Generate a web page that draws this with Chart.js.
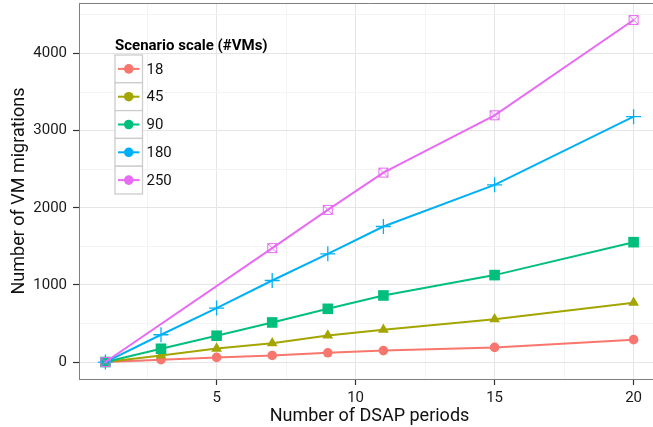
<!DOCTYPE html>
<html><head><meta charset="utf-8">
<script src="https://cdn.jsdelivr.net/npm/chart.js@4.4.1/dist/chart.umd.min.js"></script>
<style>html,body{margin:0;padding:0;overflow:hidden;background:#fff}#wrap{width:660px;height:427px}</style>
</head><body><div id="wrap"><canvas id="c" width="660" height="427"></canvas></div>
<script>
// ---- data ----
const periods = [1, 3, 5, 7, 9, 11, 15, 20];
const vms18  = [0, 30, 60, 85, 120, 148, 190, 290];
const vms45  = [0, 85, 175, 245, 345, 420, 555, 770];
const vms90  = [0, 172, 341, 513, 690, 863, 1127, 1554];
const vms180 = [0, 354, 699, 1057, 1403, 1757, 2297, 3181];
const vms250 = [0, null, null, 1477, 1973, 2456, 3199, 4434];
const seriesNames = ['18', '45', '90', '180', '250'];
const xTickValues = [2.5, 5, 7.5, 10, 12.5, 15, 17.5, 20];
const yTickValues = [0, 500, 1000, 1500, 2000, 2500, 3000, 3500, 4000, 4500];
const legendTitle = 'Scenario scale (#VMs)';

// ---- styles ----
const colors = ['#F8766D', '#A3A500', '#00BF7D', '#00B0F6', '#E76BF3'];
const FONT = 'Roboto';

function boxCross(color) {
  const c = document.createElement('canvas');
  c.width = 12; c.height = 12;
  const g = c.getContext('2d');
  g.strokeStyle = color; g.lineWidth = 1;
  g.strokeRect(1.5, 1.5, 9, 9);
  g.beginPath();
  g.moveTo(1.5, 1.5); g.lineTo(10.5, 10.5);
  g.moveTo(10.5, 1.5); g.lineTo(1.5, 10.5);
  g.stroke();
  return c;
}

const allSeries = [vms18, vms45, vms90, vms180, vms250];
const pointStyles = ['circle', 'triangle', 'rect', 'cross', boxCross(colors[4])];
const pointRadii = [4.8, 6.2, 7.5, 7.5, 6];

const datasets = allSeries.map((vals, i) => ({
  label: seriesNames[i],
  data: periods.map((p, j) => vals[j] === null ? null : ({x: p, y: vals[j]})).filter(d => d !== null),
  borderColor: colors[i],
  backgroundColor: colors[i],
  borderWidth: 2,
  pointStyle: pointStyles[i],
  pointRadius: pointRadii[i],
  pointHoverRadius: pointRadii[i],
  pointBorderWidth: i === 3 ? 1.3 : 0,
  pointBorderColor: colors[i],
  pointBackgroundColor: colors[i],
  tension: 0,
  clip: false,
  order: 5 - i
}));

const isMajorX = v => v % 5 === 0;
const isMajorY = v => v % 1000 === 0;

function zeroPad(s) { s.paddingTop = 0; s.paddingBottom = 0; s.paddingLeft = 0; s.paddingRight = 0; }

const framePlugin = {
  id: 'frame',
  afterDraw(chart) {
    const {ctx, chartArea: a} = chart;
    ctx.save();
    ctx.strokeStyle = '#7F7F7F';
    ctx.lineWidth = 1;
    ctx.beginPath();
    ctx.moveTo(a.left, a.top + 0.5);
    ctx.lineTo(a.right, a.top + 0.5);
    ctx.stroke();
    // legend
    const lx = 115, ly = 55, kw = 27.5, kh = 27.8;
    ctx.fillStyle = '#000';
    ctx.font = 'bold 15px ' + FONT;
    ctx.textBaseline = 'alphabetic';
    ctx.textAlign = 'left';
    ctx.fillText(legendTitle, lx, 50);
    seriesNames.forEach((name, i) => {
      const y0 = ly + i * kh;
      ctx.fillStyle = '#FFFFFF';
      ctx.fillRect(lx, y0, kw, kh);
      ctx.strokeStyle = '#CCCCCC';
      ctx.lineWidth = 1.3;
      ctx.strokeRect(lx, y0, kw, kh);
      const cy = y0 + kh / 2, cx = lx + kw / 2;
      ctx.strokeStyle = colors[i];
      ctx.lineWidth = 2;
      ctx.beginPath();
      ctx.moveTo(lx + 3, cy); ctx.lineTo(lx + kw - 3, cy);
      ctx.stroke();
      ctx.fillStyle = colors[i];
      ctx.beginPath();
      ctx.arc(cx, cy, 4.8, 0, Math.PI * 2);
      ctx.fill();
      ctx.fillStyle = '#111';
      ctx.font = '15px ' + FONT;
      ctx.textBaseline = 'middle';
      ctx.fillText(name, lx + kw + 4, cy + 1);
    });
    ctx.restore();
  }
};

new Chart(document.getElementById('c'), {
  type: 'line',
  data: {datasets},
  options: {
    responsive: false,
    animation: false,
    events: [],
    layout: {autoPadding: false, padding: {top: 3, right: 0, left: 0, bottom: 0}},
    plugins: {legend: {display: false}, tooltip: {enabled: false}},
    scales: {
      x: {
        type: 'linear',
        min: 0.05, max: 20.95,
        afterBuildTicks: s => { s.ticks = xTickValues.map(v => ({value: v})); },
        afterFit: s => { s.height = 48; zeroPad(s); },
        ticks: {
          autoSkip: false, maxRotation: 0, padding: 4,
          color: '#1A1A1A', font: {family: FONT, size: 15},
          callback: v => isMajorX(v) ? String(v) : ''
        },
        grid: {
          color: c => isMajorX(c.tick.value) ? '#E5E5E5' : '#F4F4F4',
          lineWidth: 1,
          tickLength: 6,
          tickColor: c => isMajorX(c.tick.value) ? '#333333' : 'rgba(0,0,0,0)',
          tickWidth: 1.2
        },
        border: {display: true, color: '#7F7F7F', width: 1},
        title: {display: true, text: 'Number of DSAP periods', color: '#111',
                font: {family: FONT, size: 18}, padding: {top: 0, bottom: 0}}
      },
      y: {
        type: 'linear',
        min: -220, max: 4655,
        afterBuildTicks: s => { s.ticks = yTickValues.map(v => ({value: v})); },
        afterFit: s => { s.width = 79; zeroPad(s); },
        ticks: {
          autoSkip: false, padding: 6,
          color: '#1A1A1A', font: {family: FONT, size: 15},
          callback: v => isMajorY(v) ? String(v) : ''
        },
        grid: {
          color: c => isMajorY(c.tick.value) ? '#E5E5E5' : '#F4F4F4',
          lineWidth: 1,
          tickLength: 6,
          tickColor: c => isMajorY(c.tick.value) ? '#333333' : 'rgba(0,0,0,0)',
          tickWidth: 1.2
        },
        border: {display: true, color: '#7F7F7F', width: 1},
        title: {display: true, text: 'Number of VM migrations', color: '#111',
                font: {family: FONT, size: 18}, padding: {top: 9, bottom: 0}}
      }
    }
  },
  plugins: [framePlugin]
});
</script></body></html>
